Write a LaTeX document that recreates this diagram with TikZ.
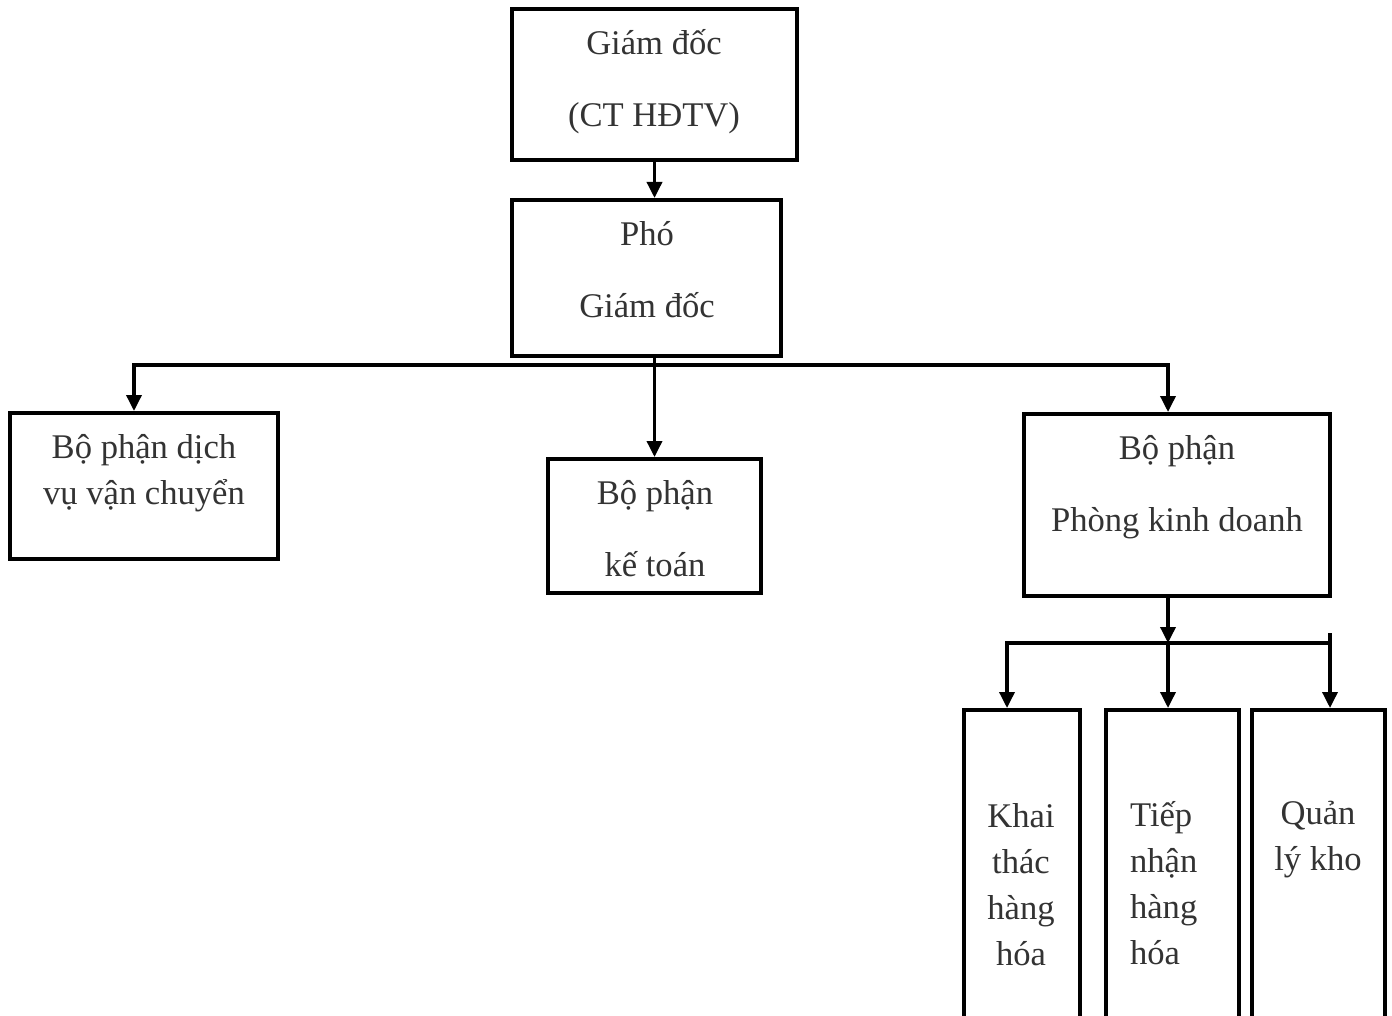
\documentclass[tikz,border=0pt]{standalone}
\usepackage{fontspec}
\setmainfont{Liberation Serif}
\usetikzlibrary{positioning, arrows.meta}

\begin{document}
\begin{tikzpicture}[x=0.5pt, y=-0.5pt, >={Triangle[width=7.5pt, length=8pt]},
    orgbox/.style={draw=black, line width=2pt, inner sep=0},
    singletext/.style={text=black!80, align=center, font=\fontsize{17.3}{23}\selectfont},
    doubletext/.style={text=black!80, align=center, font=\fontsize{17.3}{36}\selectfont},
    link/.style={line width=1.75pt}]
    \useasboundingbox (0,0) rectangle (1392,1016);
    \clip (0,0) rectangle (1392,1016);

    % boxes
    \node [orgbox, minimum width=142.5pt, minimum height=75.5pt] (giam_doc) at (654.5,84.5) {};
    \node [orgbox, minimum width=134.5pt, minimum height=78pt] (pho_gd) at (646.5,278) {};
    \node [orgbox, minimum width=134pt, minimum height=73pt] (van_chuyen) at (144,486) {};
    \node [orgbox, minimum width=106.5pt, minimum height=67pt] (ke_toan) at (654.5,526) {};
    \node [orgbox, minimum width=153pt, minimum height=91pt] (kinh_doanh) at (1177,505) {};
    \node [orgbox, minimum width=58pt, minimum height=165pt] (khai_thac) at (1022,875) {};
    \node [orgbox, minimum width=66.5pt, minimum height=165pt] (tiep_nhan) at (1172.5,875) {};
    \node [orgbox, minimum width=66.5pt, minimum height=165pt] (quan_ly) at (1318.5,875) {};

    % texts
    \node [doubletext] (giam_doc_txt) at (654,82) {Giám đốc\\(CT HĐTV)};
    \node [doubletext] (pho_gd_txt) at (647,270) {Phó\\Giám đốc};
    \node [singletext] (van_chuyen_txt) at (144,473) {Bộ phận dịch\\vụ vận chuyển};
    \node [doubletext] (ke_toan_txt) at (655,529) {Bộ phận\\kế toán};
    \node [doubletext] (kinh_doanh_txt) at (1177,487) {Bộ phận\\Phòng kinh doanh};
    \node [singletext] (khai_thac_txt) at (1021,885) {Khai\\thác\\hàng\\hóa};
    \node [singletext, align=left, anchor=west] (tiep_nhan_txt) at (1123,883) {Tiếp\\nhận\\hàng\\hóa};
    \node [singletext] (quan_ly_txt) at (1318,840) {Quản\\lý kho};

    % connectors
    \coordinate (bus_mid) at (654,365);
    \coordinate (bus_left) at (134,365);
    \coordinate (bus_right) at (1168,365);
    \coordinate (sub_mid) at (1168,643);
    \coordinate (sub_left) at (1007,643);
    \coordinate (sub_right) at (1330,643);
    \coordinate (sub_tick) at (1330,633);

    \draw [link, ->] (giam_doc.south) -- (giam_doc.south |- pho_gd.north);
    \draw [link, ->] (ke_toan.north |- pho_gd.south) -- (ke_toan.north);
    \draw [link, ->] (bus_mid) -- (bus_left) -- (bus_left |- van_chuyen.north);
    \draw [link, ->] (bus_mid) -- (bus_right) -- (bus_right |- kinh_doanh.north);

    \draw [link, ->] (sub_mid |- kinh_doanh.south) -- (sub_mid);
    \draw [link, ->] (sub_mid) -- (sub_left) -- (sub_left |- khai_thac.north);
    \draw [link, ->] (sub_mid) -- (sub_mid |- tiep_nhan.north);
    \draw [link] (sub_mid) -- (sub_right);
    \draw [link, ->] (sub_tick) -- (sub_tick |- quan_ly.north);
\end{tikzpicture}
\end{document}
